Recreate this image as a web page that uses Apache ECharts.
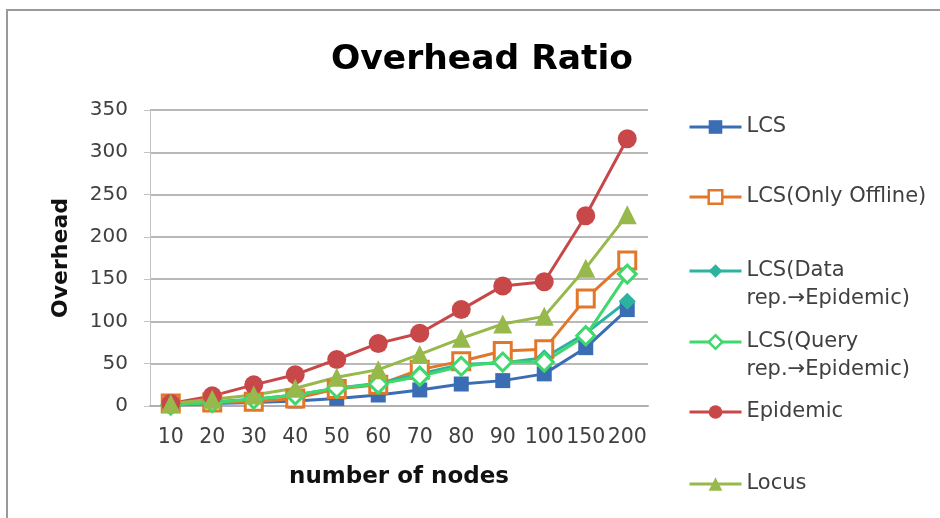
<!DOCTYPE html>
<html>
<head>
<meta charset="utf-8">
<script src="https://cdn.jsdelivr.net/npm/echarts@6/dist/echarts.min.js"></script>
<style>
  html, body { margin: 0; padding: 0; background: #ffffff; }
  #chart { width: 940px; height: 518px; }
</style>
</head>
<body>
<div id="chart"></div>
<script>
// Number of nodes on the x axis
const nodes = ['10', '20', '30', '40', '50', '60', '70', '80', '90', '100', '150', '200'];

// Overhead per protocol
const lcs          = [1, 3, 4, 6, 9, 13, 19, 26, 30, 38, 69, 114];
const lcsOffline   = [3, 4, 5, 9, 20, 25, 43, 53, 65, 67, 127, 172];
const lcsDataRep   = [2, 5, 8, 13, 21, 27, 38, 49, 51, 57, 86, 124];
const lcsQueryRep  = [1, 4, 8, 13, 21, 26, 35, 47, 52, 52, 83, 156];
const epidemic     = [3, 12, 25, 37, 55, 74, 86, 114, 142, 147, 225, 316];
const locus        = [3, 8, 13, 21, 34, 43, 61, 80, 97, 106, 163, 226];

// Y axis ticks
const yTicks = [0, 50, 100, 150, 200, 250, 300, 350];

const FONT = '"DejaVu Sans", Verdana, sans-serif';

const C = {
  blue: '#3A6DB4',
  orange: '#E2772A',
  teal: '#2BB3A0',
  mint: '#3FD86C',
  red: '#C8484A',
  olive: '#97B94C'
};

function filled(color) {
  return { color: color };
}
function hollow(color) {
  return { color: '#ffffff', borderColor: color, borderWidth: 3 };
}

const seriesDefs = [
  { name: 'LCS', data: lcs, color: C.blue, symbol: 'rect', size: 15, item: filled(C.blue) },
  { name: 'LCS(Only Offline)', data: lcsOffline, color: C.orange, symbol: 'rect', size: 17, item: hollow(C.orange) },
  { name: 'LCS(Data rep.→Epidemic)', data: lcsDataRep, color: C.teal, symbol: 'diamond', size: 17, item: filled(C.teal) },
  { name: 'LCS(Query rep.→Epidemic)', data: lcsQueryRep, color: C.mint, symbol: 'diamond', size: 18, item: hollow(C.mint) },
  { name: 'Epidemic', data: epidemic, color: C.red, symbol: 'circle', size: 19, item: filled(C.red) },
  { name: 'Locus', data: locus, color: C.olive, symbol: 'triangle', size: 19, item: filled(C.olive) }
];

// Legend entries: label lines and vertical centre of the first line
const legendRows = [
  { name: 'LCS', lines: ['LCS'], y: 125 },
  { name: 'LCS(Only Offline)', lines: ['LCS(Only Offline)'], y: 195 },
  { name: 'LCS(Data rep.→Epidemic)', lines: ['LCS(Data', 'rep.→Epidemic)'], y: 269 },
  { name: 'LCS(Query rep.→Epidemic)', lines: ['LCS(Query', 'rep.→Epidemic)'], y: 340 },
  { name: 'Epidemic', lines: ['Epidemic'], y: 410 },
  { name: 'Locus', lines: ['Locus'], y: 482 }
];

const LINE_H = 28;
const ITEM_H = 17;

// Two-line labels get an empty leading line so that the marker sits
// beside the first line of text.
const legends = legendRows.map(function (row) {
  const multi = row.lines.length > 1;
  const text = multi ? '\n' + row.lines.join('\n') : row.lines[0];
  return {
    data: [row.name],
    left: 688,
    top: row.y - (multi ? LINE_H * 1.5 : LINE_H / 2) + 2,
    orient: 'vertical',
    padding: 0,
    itemWidth: 52,
    itemHeight: ITEM_H,
    selectedMode: false,
    formatter: function () { return text; },
    lineStyle: { width: 3 },
    itemStyle: { borderWidth: 2.5 },
    textStyle: {
      fontFamily: FONT,
      fontSize: 21,
      color: '#404040',
      lineHeight: LINE_H
    }
  };
});

const chart = echarts.init(document.getElementById('chart'), null, { renderer: 'canvas' });

chart.setOption({
  animation: false,
  backgroundColor: '#ffffff',
  graphic: [{
    type: 'rect',
    shape: { x: 7, y: 10, width: 960, height: 540 },
    style: { fill: 'none', stroke: '#9a9a9a', lineWidth: 2 },
    silent: true
  }],
  title: {
    text: 'Overhead Ratio',
    left: 477,
    textAlign: 'center',
    top: 38,
    textStyle: { fontFamily: FONT, fontSize: 34.5, fontWeight: 'bold', color: '#000000' }
  },
  legend: legends,
  grid: { left: 150, right: 292, top: 110, bottom: 112, containLabel: false },
  xAxis: {
    type: 'category',
    data: nodes,
    boundaryGap: true,
    name: 'number of nodes',
    nameLocation: 'middle',
    nameGap: 60,
    nameTextStyle: { fontFamily: FONT, fontSize: 23, fontWeight: 'bold', color: '#111111' },
    axisLine: { show: true, lineStyle: { color: '#b0b0b0', width: 2 } },
    axisTick: { show: false },
    axisLabel: { margin: 21, fontFamily: FONT, fontSize: 20.5, color: '#404040', interval: 0 }
  },
  yAxis: {
    type: 'value',
    min: yTicks[0],
    max: yTicks[yTicks.length - 1],
    interval: yTicks[1] - yTicks[0],
    name: 'Overhead',
    nameLocation: 'middle',
    nameRotate: 90,
    nameGap: 78,
    nameTextStyle: { fontFamily: FONT, fontSize: 22, fontWeight: 'bold', color: '#111111' },
    axisLine: { show: true, lineStyle: { color: '#c4c4c4', width: 1 } },
    axisTick: { show: true, inside: false, length: 6, lineStyle: { color: '#c4c4c4' } },
    axisLabel: { margin: 22, fontFamily: FONT, fontSize: 20, color: '#404040' },
    splitLine: { show: true, lineStyle: { color: '#b8b8b8', width: 2 } }
  },
  series: seriesDefs.map(function (s) {
    return {
      name: s.name,
      type: 'line',
      data: s.data,
      symbol: s.symbol,
      symbolSize: s.size,
      showSymbol: true,
      lineStyle: { color: s.color, width: 3 },
      itemStyle: s.item,
      emphasis: { disabled: true }
    };
  })
});
</script>
</body>
</html>
